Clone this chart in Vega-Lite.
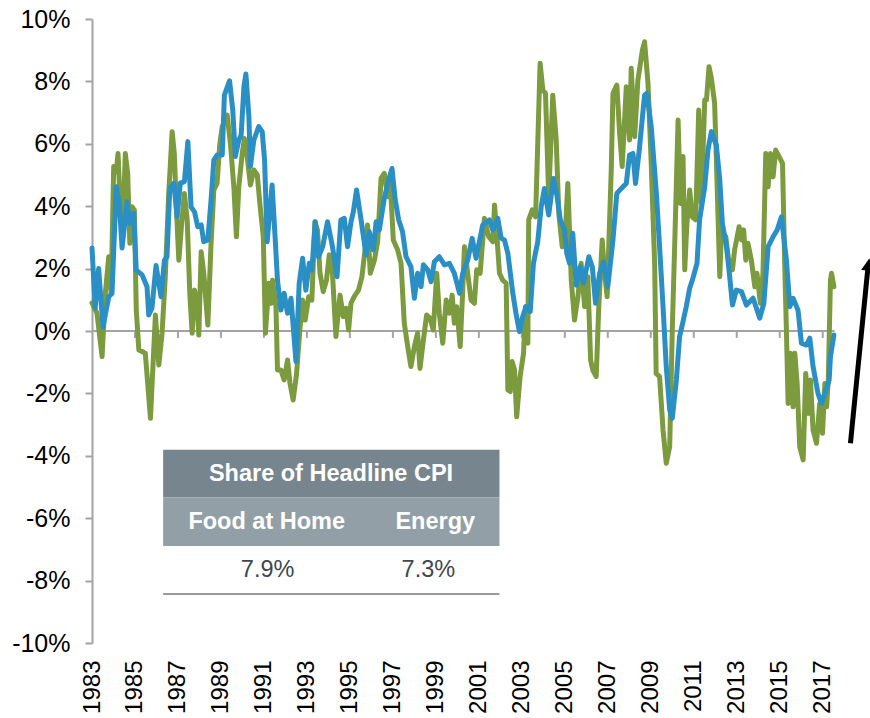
{
  "$schema": "https://vega.github.io/schema/vega-lite/v6.json",
  "autosize": {"type": "none"},
  "width": 778,
  "height": 624,
  "padding": {"left": 92, "top": 19, "right": 0, "bottom": 75},
  "background": "white",
  "config": {"view": {"stroke": null}, "font": "Liberation Sans", "axis": {"grid": false}},
  "datasets": {
    "green": [
      {"t":1983.00,"v":0.9},{"t":1983.23,"v":0.57},{"t":1983.47,"v":-0.82},{"t":1983.62,"v":1.2},{"t":1983.78,"v":2.38},{"t":1983.89,"v":1.2},{"t":1984.01,"v":5.27},{"t":1984.13,"v":5.1},{"t":1984.21,"v":5.69},{"t":1984.32,"v":3.98},{"t":1984.44,"v":3.34},{"t":1984.55,"v":5.69},{"t":1984.66,"v":5.05},{"t":1984.76,"v":2.81},{"t":1984.86,"v":3.98},{"t":1984.97,"v":3.88},{"t":1985.06,"v":0.67},{"t":1985.18,"v":-0.61},{"t":1985.33,"v":-0.66},{"t":1985.48,"v":-0.71},{"t":1985.72,"v":-2.8},{"t":1985.95,"v":0.51},{"t":1986.11,"v":-1.09},{"t":1986.26,"v":-0.07},{"t":1986.41,"v":1.74},{"t":1986.57,"v":4.41},{"t":1986.73,"v":6.39},{"t":1986.83,"v":5.69},{"t":1986.93,"v":3.88},{"t":1987.04,"v":2.27},{"t":1987.16,"v":3.34},{"t":1987.30,"v":4.41},{"t":1987.43,"v":3.56},{"t":1987.55,"v":1.21},{"t":1987.66,"v":-0.07},{"t":1987.77,"v":1.31},{"t":1987.89,"v":0.89},{"t":1987.97,"v":-0.13},{"t":1988.08,"v":2.54},{"t":1988.20,"v":1.85},{"t":1988.39,"v":0.19},{"t":1988.54,"v":2.81},{"t":1988.67,"v":4.52},{"t":1988.82,"v":4.73},{"t":1988.95,"v":6.01},{"t":1989.06,"v":6.55},{"t":1989.29,"v":6.92},{"t":1989.44,"v":6.01},{"t":1989.60,"v":4.62},{"t":1989.72,"v":3.02},{"t":1989.83,"v":4.62},{"t":1989.99,"v":5.69},{"t":1990.09,"v":6.17},{"t":1990.22,"v":5.59},{"t":1990.37,"v":4.68},{"t":1990.53,"v":5.16},{"t":1990.69,"v":5.0},{"t":1990.81,"v":4.09},{"t":1990.97,"v":3.02},{"t":1991.07,"v":-0.07},{"t":1991.23,"v":1.53},{"t":1991.34,"v":0.89},{"t":1991.40,"v":1.63},{"t":1991.56,"v":0.78},{"t":1991.63,"v":-1.25},{"t":1991.79,"v":-1.25},{"t":1991.94,"v":-1.57},{"t":1992.10,"v":-0.93},{"t":1992.21,"v":-1.67},{"t":1992.36,"v":-2.21},{"t":1992.52,"v":-1.36},{"t":1992.67,"v":0.03},{"t":1992.80,"v":0.99},{"t":1992.92,"v":0.35},{"t":1993.08,"v":1.1},{"t":1993.23,"v":0.99},{"t":1993.37,"v":3.5},{"t":1993.49,"v":3.24},{"t":1993.61,"v":1.85},{"t":1993.76,"v":1.26},{"t":1993.91,"v":1.63},{"t":1994.04,"v":2.44},{"t":1994.19,"v":1.85},{"t":1994.35,"v":-0.18},{"t":1994.54,"v":1.15},{"t":1994.69,"v":0.46},{"t":1994.82,"v":0.73},{"t":1994.94,"v":0.03},{"t":1995.05,"v":0.89},{"t":1995.20,"v":1.1},{"t":1995.40,"v":1.31},{"t":1995.56,"v":1.74},{"t":1995.72,"v":2.7},{"t":1995.82,"v":3.4},{"t":1995.95,"v":1.85},{"t":1996.14,"v":2.27},{"t":1996.29,"v":2.86},{"t":1996.45,"v":4.89},{"t":1996.60,"v":5.05},{"t":1996.76,"v":4.3},{"t":1996.87,"v":4.84},{"t":1997.02,"v":2.92},{"t":1997.22,"v":2.6},{"t":1997.38,"v":2.17},{"t":1997.53,"v":0.25},{"t":1997.69,"v":-0.5},{"t":1997.84,"v":-1.14},{"t":1998.00,"v":-0.5},{"t":1998.15,"v":-0.07},{"t":1998.26,"v":-1.2},{"t":1998.42,"v":-0.29},{"t":1998.57,"v":0.51},{"t":1998.73,"v":0.41},{"t":1998.88,"v":0.03},{"t":1999.04,"v":1.85},{"t":1999.16,"v":0.57},{"t":1999.32,"v":-0.39},{"t":1999.48,"v":0.99},{"t":1999.63,"v":0.57},{"t":1999.76,"v":1.15},{"t":1999.86,"v":0.25},{"t":1999.97,"v":0.78},{"t":2000.13,"v":-0.5},{"t":2000.25,"v":1.3},{"t":2000.33,"v":2.7},{"t":2000.48,"v":1.85},{"t":2000.64,"v":0.99},{"t":2000.79,"v":0.89},{"t":2000.90,"v":1.96},{"t":2001.06,"v":1.85},{"t":2001.26,"v":3.61},{"t":2001.46,"v":3.02},{"t":2001.65,"v":2.86},{"t":2001.73,"v":4.04},{"t":2001.83,"v":3.13},{"t":2001.96,"v":1.85},{"t":2002.11,"v":1.63},{"t":2002.27,"v":1.53},{"t":2002.35,"v":-1.89},{"t":2002.46,"v":-1.94},{"t":2002.55,"v":-0.98},{"t":2002.66,"v":-1.25},{"t":2002.76,"v":-2.75},{"t":2002.92,"v":-1.46},{"t":2003.08,"v":-0.71},{"t":2003.17,"v":0.78},{"t":2003.28,"v":-0.39},{"t":2003.32,"v":3.56},{"t":2003.48,"v":3.88},{"t":2003.64,"v":3.66},{"t":2003.85,"v":8.58},{"t":2003.98,"v":7.72},{"t":2004.10,"v":7.62},{"t":2004.25,"v":4.3},{"t":2004.44,"v":7.56},{"t":2004.60,"v":6.12},{"t":2004.72,"v":3.77},{"t":2004.88,"v":2.7},{"t":2005.03,"v":3.24},{"t":2005.14,"v":4.73},{"t":2005.30,"v":1.63},{"t":2005.45,"v":0.35},{"t":2005.61,"v":1.1},{"t":2005.76,"v":2.17},{"t":2005.92,"v":0.78},{"t":2006.07,"v":1.74},{"t":2006.20,"v":-0.93},{"t":2006.30,"v":-1.25},{"t":2006.46,"v":-1.46},{"t":2006.58,"v":0.78},{"t":2006.74,"v":2.92},{"t":2006.85,"v":1.85},{"t":2006.97,"v":1.1},{"t":2007.16,"v":5.16},{"t":2007.24,"v":7.62},{"t":2007.42,"v":7.88},{"t":2007.55,"v":6.34},{"t":2007.67,"v":5.27},{"t":2007.86,"v":7.83},{"t":2008.01,"v":6.12},{"t":2008.09,"v":8.42},{"t":2008.25,"v":6.23},{"t":2008.40,"v":8.04},{"t":2008.61,"v":9.0},{"t":2008.71,"v":9.27},{"t":2008.87,"v":7.94},{"t":2009.02,"v":5.37},{"t":2009.18,"v":2.17},{"t":2009.25,"v":-1.36},{"t":2009.41,"v":-1.46},{"t":2009.57,"v":-3.17},{"t":2009.72,"v":-4.24},{"t":2009.88,"v":-3.71},{"t":2010.00,"v":0.03},{"t":2010.11,"v":2.7},{"t":2010.27,"v":6.76},{"t":2010.38,"v":4.09},{"t":2010.50,"v":5.59},{"t":2010.58,"v":1.96},{"t":2010.68,"v":3.45},{"t":2010.81,"v":4.52},{"t":2010.93,"v":3.66},{"t":2011.09,"v":3.56},{"t":2011.23,"v":7.08},{"t":2011.35,"v":4.09},{"t":2011.51,"v":7.4},{"t":2011.59,"v":7.4},{"t":2011.71,"v":8.47},{"t":2011.82,"v":8.1},{"t":2011.97,"v":7.3},{"t":2012.08,"v":4.84},{"t":2012.21,"v":1.74},{"t":2012.29,"v":3.24},{"t":2012.49,"v":3.02},{"t":2012.64,"v":2.17},{"t":2012.80,"v":1.96},{"t":2012.90,"v":2.6},{"t":2013.11,"v":3.34},{"t":2013.22,"v":2.92},{"t":2013.32,"v":3.24},{"t":2013.42,"v":2.27},{"t":2013.52,"v":2.81},{"t":2013.68,"v":2.27},{"t":2013.84,"v":1.42},{"t":2013.94,"v":1.85},{"t":2014.10,"v":0.89},{"t":2014.22,"v":1.85},{"t":2014.35,"v":5.69},{"t":2014.46,"v":4.62},{"t":2014.57,"v":5.69},{"t":2014.69,"v":4.94},{"t":2014.81,"v":5.8},{"t":2014.97,"v":5.59},{"t":2015.13,"v":5.37},{"t":2015.23,"v":2.17},{"t":2015.31,"v":0.03},{"t":2015.39,"v":-2.32},{"t":2015.50,"v":-0.71},{"t":2015.62,"v":-2.43},{"t":2015.70,"v":-0.71},{"t":2015.81,"v":-1.68},{"t":2015.93,"v":-3.71},{"t":2016.09,"v":-4.13},{"t":2016.21,"v":-1.36},{"t":2016.32,"v":-2.64},{"t":2016.43,"v":-1.57},{"t":2016.55,"v":-3.17},{"t":2016.71,"v":-3.6},{"t":2016.86,"v":-2.32},{"t":2016.99,"v":-3.28},{"t":2017.10,"v":-1.68},{"t":2017.18,"v":-2.43},{"t":2017.26,"v":-1.57},{"t":2017.36,"v":1.63},{"t":2017.41,"v":1.85},{"t":2017.52,"v":1.42}
    ],
    "blue": [
      {"t":1983.00,"v":2.66},{"t":1983.15,"v":0.74},{"t":1983.31,"v":2.0},{"t":1983.51,"v":0.13},{"t":1983.78,"v":1.1},{"t":1983.93,"v":1.2},{"t":1984.13,"v":4.62},{"t":1984.27,"v":4.1},{"t":1984.40,"v":2.66},{"t":1984.63,"v":4.14},{"t":1984.76,"v":3.45},{"t":1984.94,"v":3.77},{"t":1985.06,"v":1.95},{"t":1985.33,"v":1.8},{"t":1985.56,"v":1.42},{"t":1985.64,"v":0.51},{"t":1985.79,"v":0.74},{"t":1985.98,"v":2.1},{"t":1986.21,"v":1.1},{"t":1986.37,"v":2.27},{"t":1986.49,"v":2.38},{"t":1986.62,"v":4.57},{"t":1986.81,"v":4.73},{"t":1986.96,"v":3.66},{"t":1987.11,"v":4.74},{"t":1987.30,"v":4.79},{"t":1987.46,"v":6.07},{"t":1987.61,"v":3.98},{"t":1987.77,"v":3.82},{"t":1987.92,"v":3.34},{"t":1988.08,"v":3.4},{"t":1988.20,"v":2.86},{"t":1988.39,"v":2.92},{"t":1988.54,"v":4.2},{"t":1988.67,"v":5.48},{"t":1988.82,"v":5.64},{"t":1989.06,"v":5.64},{"t":1989.16,"v":7.56},{"t":1989.40,"v":8.02},{"t":1989.55,"v":7.08},{"t":1989.67,"v":5.59},{"t":1989.83,"v":6.12},{"t":1989.94,"v":6.28},{"t":1990.07,"v":7.83},{"t":1990.16,"v":8.24},{"t":1990.30,"v":6.87},{"t":1990.37,"v":5.27},{"t":1990.53,"v":6.12},{"t":1990.76,"v":6.55},{"t":1990.92,"v":6.39},{"t":1991.03,"v":5.48},{"t":1991.15,"v":2.86},{"t":1991.38,"v":4.68},{"t":1991.52,"v":3.0},{"t":1991.63,"v":1.63},{"t":1991.79,"v":0.67},{"t":1991.94,"v":1.21},{"t":1992.10,"v":0.57},{"t":1992.26,"v":1.05},{"t":1992.49,"v":-0.98},{"t":1992.64,"v":1.53},{"t":1992.80,"v":2.33},{"t":1992.95,"v":1.31},{"t":1993.11,"v":2.17},{"t":1993.23,"v":1.96},{"t":1993.39,"v":3.5},{"t":1993.54,"v":2.38},{"t":1993.73,"v":2.7},{"t":1993.96,"v":3.5},{"t":1994.19,"v":2.7},{"t":1994.40,"v":1.74},{"t":1994.58,"v":3.56},{"t":1994.74,"v":3.61},{"t":1994.89,"v":2.7},{"t":1995.05,"v":3.5},{"t":1995.16,"v":3.82},{"t":1995.31,"v":4.52},{"t":1995.52,"v":3.56},{"t":1995.75,"v":2.44},{"t":1995.90,"v":3.18},{"t":1996.09,"v":2.6},{"t":1996.22,"v":3.5},{"t":1996.37,"v":3.24},{"t":1996.60,"v":4.25},{"t":1996.80,"v":4.84},{"t":1996.96,"v":5.21},{"t":1997.11,"v":4.2},{"t":1997.27,"v":3.56},{"t":1997.45,"v":3.18},{"t":1997.61,"v":2.38},{"t":1997.84,"v":2.06},{"t":1998.00,"v":1.05},{"t":1998.15,"v":1.85},{"t":1998.31,"v":1.42},{"t":1998.42,"v":2.12},{"t":1998.62,"v":1.96},{"t":1998.78,"v":1.58},{"t":1998.93,"v":2.22},{"t":1999.16,"v":2.38},{"t":1999.40,"v":2.12},{"t":1999.63,"v":2.17},{"t":1999.86,"v":1.85},{"t":2000.10,"v":1.21},{"t":2000.25,"v":1.85},{"t":2000.48,"v":2.27},{"t":2000.69,"v":2.97},{"t":2000.87,"v":2.33},{"t":2001.18,"v":3.4},{"t":2001.49,"v":3.56},{"t":2001.65,"v":3.24},{"t":2001.88,"v":3.61},{"t":2002.04,"v":2.97},{"t":2002.19,"v":2.92},{"t":2002.35,"v":2.49},{"t":2002.58,"v":1.21},{"t":2002.74,"v":0.51},{"t":2002.89,"v":-0.02},{"t":2003.04,"v":0.46},{"t":2003.20,"v":0.78},{"t":2003.39,"v":0.62},{"t":2003.54,"v":2.17},{"t":2003.74,"v":2.86},{"t":2003.90,"v":3.98},{"t":2004.05,"v":4.57},{"t":2004.25,"v":3.72},{"t":2004.47,"v":4.89},{"t":2004.63,"v":4.36},{"t":2004.79,"v":3.56},{"t":2004.99,"v":3.24},{"t":2005.09,"v":2.49},{"t":2005.22,"v":2.17},{"t":2005.37,"v":3.13},{"t":2005.53,"v":1.47},{"t":2005.72,"v":2.06},{"t":2005.87,"v":1.53},{"t":2006.12,"v":2.38},{"t":2006.28,"v":2.06},{"t":2006.43,"v":0.89},{"t":2006.62,"v":1.85},{"t":2006.80,"v":2.22},{"t":2007.00,"v":1.42},{"t":2007.24,"v":2.92},{"t":2007.42,"v":4.41},{"t":2007.63,"v":4.57},{"t":2007.86,"v":4.73},{"t":2008.01,"v":5.64},{"t":2008.17,"v":5.69},{"t":2008.29,"v":4.73},{"t":2008.48,"v":5.91},{"t":2008.71,"v":7.56},{"t":2008.82,"v":7.62},{"t":2009.02,"v":6.55},{"t":2009.26,"v":4.41},{"t":2009.41,"v":2.7},{"t":2009.57,"v":0.78},{"t":2009.72,"v":-1.14},{"t":2009.88,"v":-2.53},{"t":2010.00,"v":-2.8},{"t":2010.19,"v":-1.57},{"t":2010.34,"v":-0.18},{"t":2010.50,"v":0.3},{"t":2010.65,"v":0.78},{"t":2010.81,"v":1.37},{"t":2010.96,"v":1.69},{"t":2011.15,"v":2.17},{"t":2011.27,"v":3.56},{"t":2011.51,"v":4.62},{"t":2011.66,"v":5.8},{"t":2011.82,"v":6.39},{"t":2012.05,"v":5.96},{"t":2012.21,"v":4.84},{"t":2012.33,"v":3.45},{"t":2012.52,"v":2.7},{"t":2012.64,"v":1.96},{"t":2012.80,"v":0.83},{"t":2012.98,"v":1.31},{"t":2013.22,"v":1.26},{"t":2013.45,"v":0.83},{"t":2013.76,"v":1.05},{"t":2014.07,"v":0.41},{"t":2014.26,"v":0.89},{"t":2014.46,"v":2.7},{"t":2014.69,"v":3.02},{"t":2014.88,"v":3.24},{"t":2015.08,"v":3.66},{"t":2015.31,"v":2.27},{"t":2015.47,"v":0.78},{"t":2015.62,"v":1.05},{"t":2015.85,"v":0.67},{"t":2016.01,"v":-0.39},{"t":2016.24,"v":-0.45},{"t":2016.40,"v":-0.23},{"t":2016.55,"v":-1.14},{"t":2016.78,"v":-2.0},{"t":2016.94,"v":-2.32},{"t":2017.10,"v":-2.0},{"t":2017.30,"v":-1.57},{"t":2017.36,"v":-0.82},{"t":2017.52,"v":-0.13}
    ],
    "ticks": [
      {"year":1985},{"year":1987},{"year":1989},{"year":1991},{"year":1993},{"year":1995},{"year":1997},{"year":1999},{"year":2001},{"year":2003},{"year":2005},{"year":2007},{"year":2009},{"year":2011},{"year":2013},{"year":2015},{"year":2017}
    ],
    "one": [{}]
  },
  "layer": [
    {
      "data": {"name": "one"},
      "mark": {"type": "rule", "color": "#a3a3a3", "strokeWidth": 2},
      "encoding": {
        "x": {"datum": 1983, "type": "quantitative"},
        "x2": {"datum": 2017.55},
        "y": {"datum": 0, "type": "quantitative"}
      }
    },
    {
      "data": {"name": "ticks"},
      "mark": {"type": "rule", "color": "#a3a3a3", "strokeWidth": 2},
      "encoding": {
        "x": {"field": "year", "type": "quantitative"},
        "y": {"datum": 0, "type": "quantitative"},
        "y2": {"datum": -0.22}
      }
    },
    {
      "data": {"name": "green"},
      "mark": {"type": "line", "color": "#7b9b3e", "strokeWidth": 5, "strokeJoin": "round", "strokeCap": "round"},
      "encoding": {
        "x": {
          "field": "t", "type": "quantitative",
          "scale": {"domain": [1983, 2019.2], "nice": false, "zero": false},
          "axis": {
            "values": [1983,1985,1987,1989,1991,1993,1995,1997,1999,2001,2003,2005,2007,2009,2011,2013,2015,2017],
            "format": "d", "labelAngle": 270, "ticks": false, "domain": false,
            "labelPadding": 17, "labelFontSize": 24, "labelColor": "#000000",
            "labelFont": "Liberation Sans", "labelFlush": false, "labelOverlap": false,
            "title": null, "grid": false
          }
        },
        "y": {
          "field": "v", "type": "quantitative",
          "scale": {"domain": [-10, 10], "nice": false, "zero": false},
          "axis": {
            "values": [-10,-8,-6,-4,-2,0,2,4,6,8,10],
            "labelExpr": "datum.value + '%'",
            "tickSize": 7, "tickWidth": 2, "tickColor": "#a3a3a3",
            "domainColor": "#a3a3a3", "domainWidth": 2,
            "labelFontSize": 25, "labelPadding": 15, "labelColor": "#000000",
            "labelFont": "Liberation Sans", "labelFlush": false, "labelOverlap": false,
            "title": null, "grid": false
          }
        }
      }
    },
    {
      "data": {"name": "blue"},
      "mark": {"type": "line", "color": "#2a8fc5", "strokeWidth": 5, "strokeJoin": "round", "strokeCap": "round"},
      "encoding": {
        "x": {"field": "t", "type": "quantitative"},
        "y": {"field": "v", "type": "quantitative"}
      }
    },
    {
      "data": {"name": "one"},
      "mark": {"type": "rect", "color": "#77858f"},
      "encoding": {
        "x": {"datum": 1986.31, "type": "quantitative"},
        "x2": {"datum": 2001.96},
        "y": {"datum": -3.81, "type": "quantitative"},
        "y2": {"datum": -5.33}
      }
    },
    {
      "data": {"name": "one"},
      "mark": {"type": "rect", "color": "#939fa7"},
      "encoding": {
        "x": {"datum": 1986.31, "type": "quantitative"},
        "x2": {"datum": 2001.96},
        "y": {"datum": -5.33, "type": "quantitative"},
        "y2": {"datum": -6.89}
      }
    },
    {
      "data": {"name": "one"},
      "mark": {"type": "rule", "color": "#9a9a9a", "strokeWidth": 2},
      "encoding": {
        "x": {"datum": 1986.31, "type": "quantitative"},
        "x2": {"datum": 2001.96},
        "y": {"datum": -8.43, "type": "quantitative"}
      }
    },
    {
      "data": {"name": "one"},
      "mark": {"type": "text", "text": "Share of Headline CPI", "font": "Liberation Sans", "fontWeight": "bold", "fontSize": 23.5, "color": "#ffffff", "align": "center", "baseline": "middle"},
      "encoding": {
        "x": {"datum": 1994.12, "type": "quantitative"},
        "y": {"datum": -4.57, "type": "quantitative"}
      }
    },
    {
      "data": {"name": "one"},
      "mark": {"type": "text", "text": "Food at Home", "font": "Liberation Sans", "fontWeight": "bold", "fontSize": 23.5, "color": "#ffffff", "align": "center", "baseline": "middle"},
      "encoding": {
        "x": {"datum": 1991.13, "type": "quantitative"},
        "y": {"datum": -6.11, "type": "quantitative"}
      }
    },
    {
      "data": {"name": "one"},
      "mark": {"type": "text", "text": "Energy", "font": "Liberation Sans", "fontWeight": "bold", "fontSize": 23.5, "color": "#ffffff", "align": "center", "baseline": "middle"},
      "encoding": {
        "x": {"datum": 1998.97, "type": "quantitative"},
        "y": {"datum": -6.11, "type": "quantitative"}
      }
    },
    {
      "data": {"name": "one"},
      "mark": {"type": "text", "text": "7.9%", "font": "Liberation Sans", "fontSize": 23.5, "color": "#3d4750", "align": "center", "baseline": "middle"},
      "encoding": {
        "x": {"datum": 1991.17, "type": "quantitative"},
        "y": {"datum": -7.66, "type": "quantitative"}
      }
    },
    {
      "data": {"name": "one"},
      "mark": {"type": "text", "text": "7.3%", "font": "Liberation Sans", "fontSize": 23.5, "color": "#3d4750", "align": "center", "baseline": "middle"},
      "encoding": {
        "x": {"datum": 1998.65, "type": "quantitative"},
        "y": {"datum": -7.66, "type": "quantitative"}
      }
    },
    {
      "data": {"name": "one"},
      "mark": {"type": "rule", "color": "#000000", "strokeWidth": 5},
      "encoding": {
        "x": {"datum": 2018.29, "type": "quantitative"},
        "x2": {"datum": 2019.1},
        "y": {"datum": -3.6, "type": "quantitative"},
        "y2": {"datum": 2.0}
      }
    },
    {
      "data": {"name": "one"},
      "mark": {"type": "point", "shape": "triangle-up", "filled": true, "color": "#000000", "size": 200, "angle": 5, "opacity": 1},
      "encoding": {
        "x": {"datum": 2019.14, "type": "quantitative"},
        "y": {"datum": 2.13, "type": "quantitative"}
      }
    }
  ]
}
